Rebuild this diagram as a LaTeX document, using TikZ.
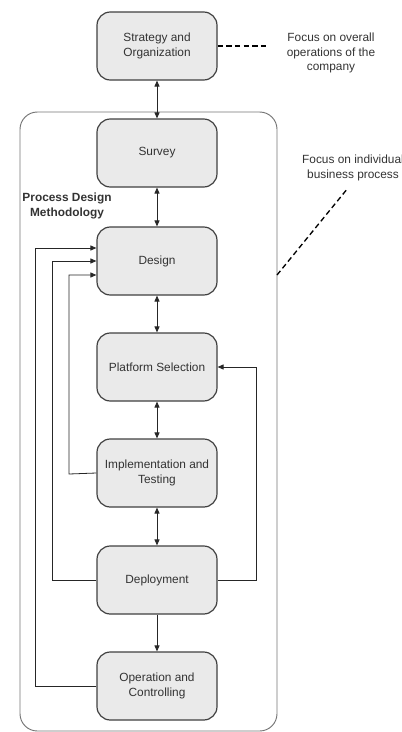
\documentclass[tikz,border=0pt]{standalone}
\usepackage{fontspec}
\setmainfont{Liberation Sans}
\usetikzlibrary{arrows.meta,positioning}
\definecolor{boxfill}{HTML}{EAEAEA}
\definecolor{boxline}{HTML}{404040}
\definecolor{txt}{HTML}{333333}

\begin{document}
\begin{tikzpicture}[x=0.75pt,y=-0.75pt,
  stage/.style={draw=boxline,fill=boxfill,line width=0.9pt,rounded corners=10pt,
    minimum width=90pt,minimum height=51pt,align=center,text=txt,
    font=\fontsize{8.9}{11}\selectfont},
  note/.style={align=center,text=txt,font=\fontsize{8.9}{11}\selectfont},
  link/.style={line width=0.6pt,draw=black!85,-{Triangle[length=4.5pt,width=3.8pt]}},
  both/.style={link,{Triangle[length=4.5pt,width=3.8pt]}-{Triangle[length=4.5pt,width=3.8pt]}}]
\useasboundingbox (0,0) rectangle (401,732);
% outer frame
\draw[draw=black!55,line width=0.7pt,rounded corners=13pt] (20,112) rectangle (277,731);
\node[font=\bfseries\fontsize{8.9}{11}\selectfont,align=center,text=txt] (pdm) at (67,206) {Process Design\\Methodology};
% stages
\node[stage] (strat) at (157,46) {Strategy and\\Organization};
\node[stage] (survey) at (157,153) {Survey};
\node[stage] (design) at (157,261) {Design};
\node[stage] (platform) at (157,367) {Platform Selection};
\node[stage] (impl) at (157,473) {Implementation and\\Testing};
\node[stage] (deploy) at (157,580) {Deployment};
\node[stage] (oper) at (157,686) {Operation and\\Controlling};
% main chain
\draw[both] (strat) -- (survey);
\draw[both] (survey) -- (design);
\draw[both] (design) -- (platform);
\draw[both] (platform) -- (impl);
\draw[both] (impl) -- (deploy);
\draw[link] (deploy) -- (oper);
% feedback
\draw[link] (oper.west) -- (35,686) -- (35,248) -- (design.west |- 0,248);
\draw[link] (deploy.west) -- (52,580) -- (52,261) -- (design.west);
\draw[link] (impl.west) -- (69,474) -- (69,275) -- (design.west |- 0,275);
\draw[link] (deploy.east) -- (256,580) -- (256,367) -- (platform.east);
% notes
\node[note] (overall) at (331,53) {Focus on overall\\operations of the\\company};
\node[note] (single) at (353,168) {Focus on individual\\business process};
\coordinate (frameR) at (277,275);
\draw[dashed,line width=1pt,dash pattern=on 4pt off 2.5pt] (strat.east) -- (268,46);
\draw[dashed,line width=1pt,dash pattern=on 4pt off 2.5pt] (frameR) -- (348,188);
\end{tikzpicture}
\end{document}
